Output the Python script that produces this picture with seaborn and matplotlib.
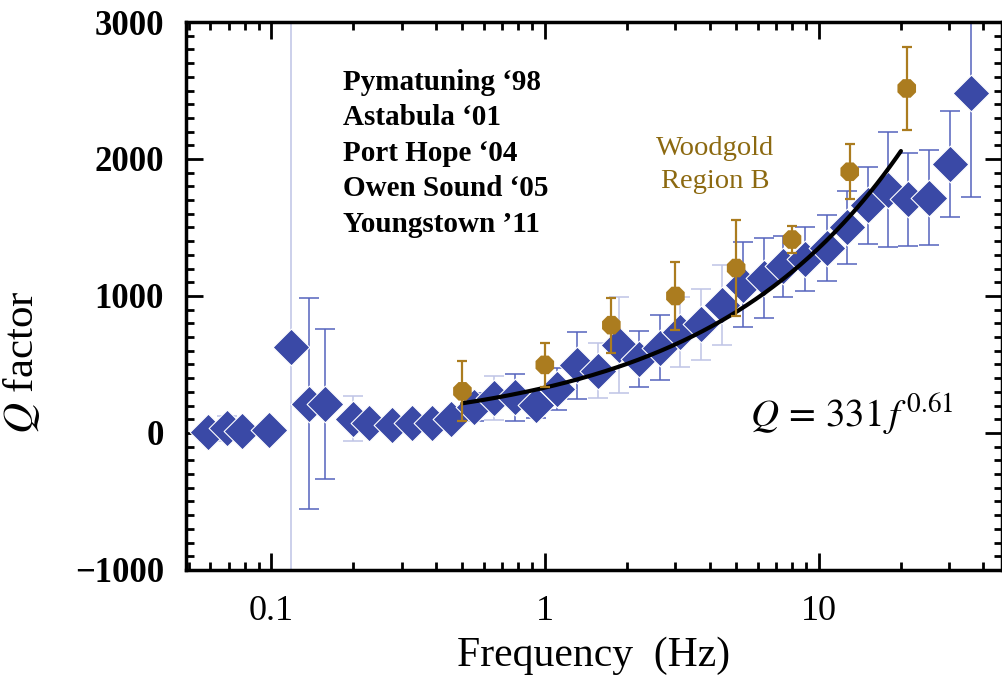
import numpy as np
import pandas as pd
import matplotlib
matplotlib.use("Agg")
import matplotlib.pyplot as plt
import seaborn as sns
from matplotlib.ticker import LogLocator, FixedLocator, NullFormatter, FuncFormatter

# Combined Q estimates from five earthquake sequences (quarter-octave bands)
blue_freq = [0.059, 0.069, 0.0785, 0.0986, 0.118, 0.138, 0.158, 0.199, 0.227, 0.277,
             0.326, 0.388, 0.455, 0.551, 0.652, 0.778, 0.927, 1.11, 1.31, 1.56,
             1.86, 2.21, 2.64, 3.13, 3.73, 4.44, 5.30, 6.32, 7.43, 8.91,
             10.7, 12.7, 15.1, 18.0, 21.3, 25.4, 30.3, 36.1]
blue_q = [10, 35, 15, 25, 627, 215, 211, 103, 76, 59,
          76, 76, 100, 191, 255, 260, 206, 321, 493, 456,
          640, 542, 623, 738, 794, 934, 1081, 1130, 1216, 1270,
          1351, 1502, 1662, 1775, 1706, 1718, 1963, 2483]
blue_err = [0, 90, 0, 0, 5000, 770, 545, 165, 50, 0,
            0, 0, 0, 100, 160, 170, 100, 150, 245, 200,
            350, 205, 235, 255, 260, 290, 310, 290, 220, 230,
            240, 265, 280, 420, 340, 345, 385, 760]

# Woodgold, Region B
gold_freq = [0.5, 1.0, 1.75, 3.0, 5.0, 8.0, 13.0, 21.0]
gold_q = [304, 497, 787, 1000, 1204, 1412, 1907, 2515]
gold_err = [220, 163, 200, 250, 350, 100, 200, 300]

# Power-law fit Q = Q0 * f^eta
fit_q0 = 331
fit_eta = 0.61
fit_fmin, fit_fmax = 0.5, 20.0

y_ticks = [-1000, 0, 1000, 2000, 3000]
x_ticks = [0.1, 1, 10]
x_tick_labels = ["0.1", "1", "10"]

# error bars that are drawn in the paler tint
pale_bars = {1, 4, 7, 14, 19, 20, 23, 24, 25}

BLUE = "#3a49a6"
BAR_DARK = "#5563bd"
BAR_PALE = "#bfc4e6"
GOLD = "#ab7c1f"

sns.set_style("white")
plt.rcParams["font.family"] = ["Liberation Serif", "DejaVu Serif"]
plt.rcParams["mathtext.fontset"] = "stix"
plt.rcParams["text.color"] = "black"
plt.rcParams["axes.labelcolor"] = "black"
plt.rcParams["xtick.color"] = "black"
plt.rcParams["ytick.color"] = "black"

fig = plt.figure(figsize=(10.03, 6.75), dpi=100)
ax = fig.add_axes([0.1855, 0.1556, 0.8135, 0.8118])

blue = pd.DataFrame({"f": blue_freq, "q": blue_q, "err": blue_err})
gold = pd.DataFrame({"f": gold_freq, "q": gold_q, "err": gold_err})

# blue error bars
for i, row in blue.iterrows():
    if row["err"] <= 0:
        continue
    c = BAR_PALE if i in pale_bars else BAR_DARK
    ax.errorbar(row["f"], row["q"], yerr=row["err"], fmt="none", ecolor=c,
                elinewidth=1.1, capsize=7.5, capthick=1.1, zorder=1)

sns.scatterplot(data=blue, x="f", y="q", marker="D", s=350, color=BLUE,
                edgecolor="white", linewidth=0.8, ax=ax, zorder=2, legend=False)

# fitted curve
fit_f = np.geomspace(fit_fmin, fit_fmax, 200)
fit = pd.DataFrame({"f": fit_f, "q": fit_q0 * fit_f ** fit_eta})
sns.lineplot(data=fit, x="f", y="q", color="black", linewidth=3.0, ax=ax, zorder=3)

# Woodgold points
ax.errorbar(gold["f"], gold["q"], yerr=gold["err"], fmt="none", ecolor=GOLD,
            elinewidth=1.6, capsize=3.5, capthick=1.6, zorder=4)
sns.scatterplot(data=gold, x="f", y="q", marker="8", s=210, color=GOLD,
                edgecolor="none", ax=ax, zorder=5, legend=False)

ax.set_xscale("log")
ax.set_xlim(0.0489, 46.8)
ax.set_ylim(-1000, 3000)

ax.xaxis.set_major_locator(FixedLocator(x_ticks))
ax.xaxis.set_major_formatter(FuncFormatter(lambda v, p: x_tick_labels[x_ticks.index(v)]
                                           if v in x_ticks else ""))
ax.xaxis.set_minor_locator(LogLocator(base=10, subs=np.arange(2, 10)))
ax.xaxis.set_minor_formatter(NullFormatter())
ax.yaxis.set_major_locator(FixedLocator(y_ticks))
ax.yaxis.set_minor_locator(FixedLocator(np.arange(-1000, 3001, 100)))
ax.set_yticklabels([f"{v:d}".replace("-", "\u2212") for v in y_ticks])

ax.tick_params(which="both", direction="in", bottom=True, left=True, top=True,
               right=True, width=2.0, color="black")
ax.tick_params(which="major", length=12)
ax.tick_params(which="minor", length=6)
ax.tick_params(axis="x", which="major", labelsize=26, pad=18, labelcolor="black")
ax.tick_params(axis="y", which="major", labelsize=25, pad=16, labelcolor="black")
for lab in ax.get_yticklabels():
    lab.set_fontweight("bold")

for sp in ax.spines.values():
    sp.set_linewidth(2.5)
    sp.set_color("black")

ax.set_xlabel("Frequency  (Hz)", fontsize=30, labelpad=6)
ax.set_ylabel("$Q$ factor", fontsize=31)
ax.yaxis.set_label_coords(-0.176, 0.38)

sites = ["Pymatuning \u201898", "Astabula \u201801", "Port Hope \u201804",
         "Owen Sound \u201805", "Youngstown \u201911"]
for k, s in enumerate(sites):
    ax.text(0.192, 0.876 - k * 0.0648, s, transform=ax.transAxes, fontsize=21,
            fontweight="bold", va="baseline", ha="left", color="black")

for k, s in enumerate(["Woodgold", "Region B"]):
    ax.text(0.648, 0.757 - k * 0.06, s, transform=ax.transAxes, fontsize=20.5,
            color="#8c6910", ha="center", va="baseline", fontweight="normal")

ax.text(0.691, 0.262, r"$Q\, =\, 331\,f^{\,0.61}$", transform=ax.transAxes,
        fontsize=28, ha="left", va="baseline", color="black")

fig.savefig("out.png", dpi=100)
